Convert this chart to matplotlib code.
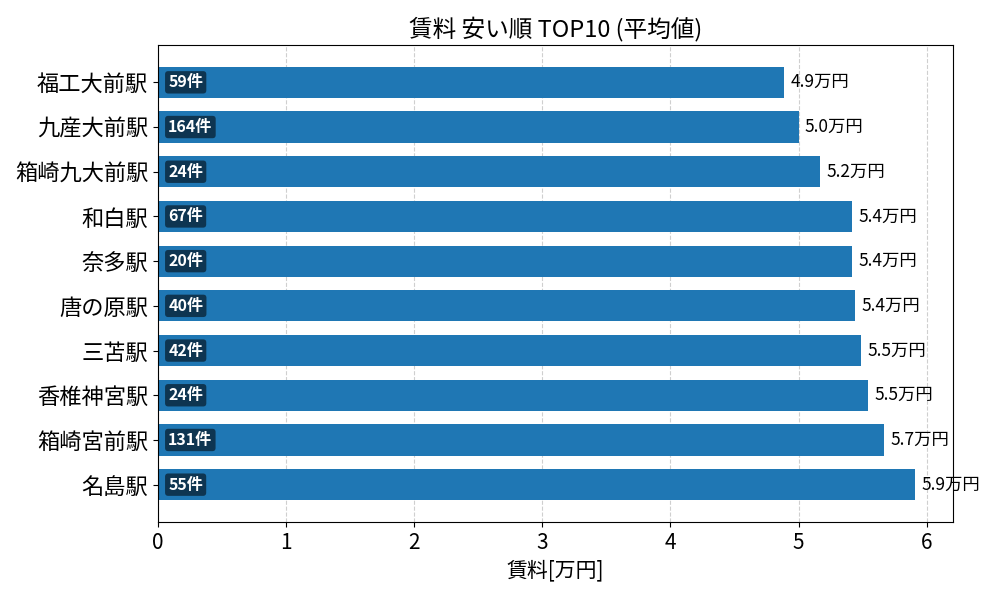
import matplotlib
matplotlib.use("Agg")
import matplotlib.pyplot as plt

plt.rcParams['font.family'] = ['Noto Sans CJK JP', 'DejaVu Sans']

stations = ["福工大前駅", "九産大前駅", "箱崎九大前駅", "和白駅", "奈多駅",
            "唐の原駅", "三苫駅", "香椎神宮駅", "箱崎宮前駅", "名島駅"]
rent = [4.89, 5.00, 5.17, 5.42, 5.42, 5.44, 5.49, 5.54, 5.67, 5.91]
counts = [59, 164, 24, 67, 20, 40, 42, 24, 131, 55]

fig, ax = plt.subplots(figsize=(10, 6), dpi=100)
ypos = list(range(len(stations)))
ax.barh(ypos, rent, height=0.7, color='#1f77b4')
ax.set_yticks(ypos)
ax.set_yticklabels(stations, fontsize=16)
ax.invert_yaxis()
ax.set_xlim(0, max(rent) * 1.05)
ax.tick_params(axis='x', labelsize=15)
ax.set_xlabel("賃料[万円]", fontsize=15)
ax.set_title("賃料 安い順 TOP10 (平均値)", fontsize=17)
ax.grid(axis='x', linestyle='--', alpha=0.6)
ax.set_axisbelow(True)

for y, v, n in zip(ypos, rent, counts):
    ax.text(v + 0.05, y, f"{v:.1f}万円", va='center', ha='left', fontsize=12.5)
    ax.text(0.08, y, f"{n}件", va='center', ha='left', fontsize=11.5,
            color='white', fontweight='bold',
            bbox=dict(boxstyle='round,pad=0.2', facecolor='black', alpha=0.55, edgecolor='none'))

fig.subplots_adjust(left=0.158, right=0.953, top=0.925, bottom=0.13)
fig.savefig("out.png", dpi=100)
